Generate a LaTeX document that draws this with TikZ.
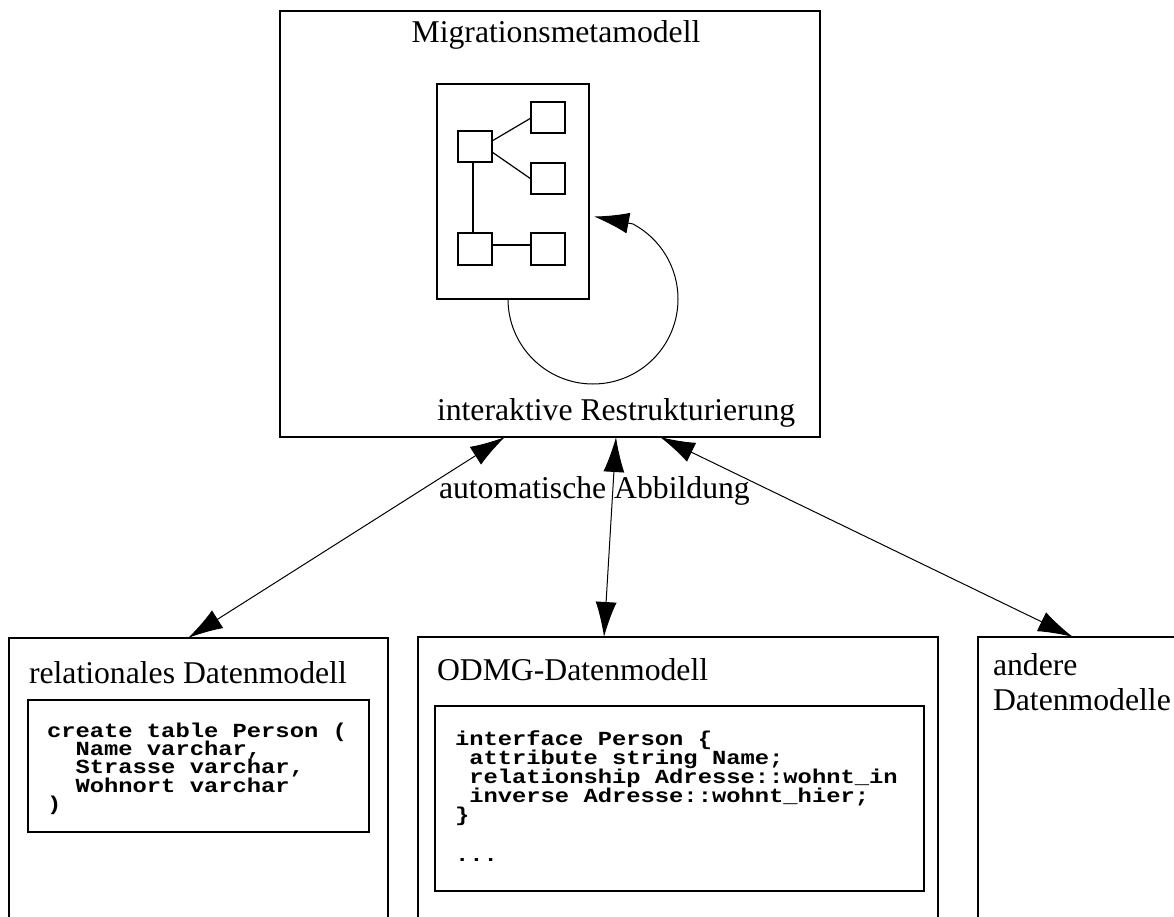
\documentclass[tikz,border=0pt]{standalone}
\usepackage{fontspec}
\setmainfont{Liberation Serif}
\setmonofont{Liberation Mono}[FakeStretch=1.19]
\usetikzlibrary{arrows.meta,calc}

\tikzset{
  box/.style={draw, line width=2pt, inner sep=0pt, outer sep=0pt, anchor=north west},
  smallbox/.style={draw, line width=2pt, inner sep=0pt, outer sep=0pt, minimum width=34pt, minimum height=31pt},
  txt/.style={inner sep=0pt, outer sep=0pt, font=\fontsize{31.7}{35}\selectfont},
  code/.style={inner sep=0pt, outer sep=0pt, anchor=base west},
  link/.style={line width=1pt, {Latex[length=35pt,width=21pt]}-{Latex[length=35pt,width=21pt]}},
  tip/.style={-{Latex[length=35pt,width=21pt]}}
}
\newcommand\codelines[2]{{\ttfamily\bfseries\fontsize{20}{#1}\selectfont\lineskiplimit=-100pt\vtop{#2}}}

\begin{document}
\begin{tikzpicture}[line cap=round,x=1pt,y=1pt]
\useasboundingbox (0,0) rectangle (1174,-917);
\clip (0,0) rectangle (1174,-917);
\node[box, minimum width=540pt, minimum height=426pt] (meta) at (280,-11) {};
\node[txt, anchor=base] (metalabel) at (556,-43) {Migrationsmetamodell};
\node[box, minimum width=152pt, minimum height=215pt] (struct) at (437,-84) {};
\node[smallbox] (sa) at (475,-147) {};
\node[smallbox] (sb) at (548,-118) {};
\node[smallbox] (sc) at (548,-179) {};
\node[smallbox] (sd) at (475,-249) {};
\node[smallbox] (se) at (548,-249) {};
\draw[line width=1.2pt] ([yshift=6pt]sa.east) -- (sb.west);
\draw[line width=1.2pt] ([yshift=-5pt]sa.east) -- (sc.west);
\draw[line width=1.2pt] ([xshift=-2pt]sa.south) -- ([xshift=-2pt]sd.north);
\draw[line width=1.2pt] ([yshift=4pt]sd.east) -- ([yshift=4pt]se.west);
\draw[line width=1pt, tip] ([xshift=71pt]struct.south west) arc[start angle=180, end angle=422, radius=85] -- ([xshift=5pt,yshift=-25pt]struct.east);
\node[txt, anchor=base west] (restr) at (437,-420) {interaktive Restrukturierung};
\node[box, minimum width=379pt, minimum height=400pt] (rel) at (9,-638) {};
\node[txt, anchor=base west] (rellabel) at (29,-683) {relationales Datenmodell};
\node[box, minimum width=341pt, minimum height=132pt] (relcode) at (28,-700) {};
\node[code] (reltext) at (47,-737) {\codelines{18.4pt}{%
  \hbox{create table Person (}
  \hbox{\ \ Name varchar,}
  \hbox{\ \ Strasse varchar,}
  \hbox{\ \ Wohnort varchar}
  \hbox{)}}};
\node[box, minimum width=520pt, minimum height=400pt] (odmg) at (418,-637) {};
\node[txt, anchor=base west] (odmglabel) at (437,-680) {ODMG-Datenmodell};
\node[box, minimum width=489pt, minimum height=185pt] (odmgcode) at (435,-706) {};
\node[code] (odmgtext) at (455,-745) {\codelines{19.2pt}{%
  \hbox{interface Person \{}
  \hbox{\ attribute string Name;}
  \hbox{\ relationship Adresse::wohnt\_in}
  \hbox{\ inverse Adresse::wohnt\_hier;}
  \hbox{\}}
  \vskip 20pt
  \hbox{...}}};
\node[box, minimum width=300pt, minimum height=400pt] (other) at (978,-637) {};
\node[txt, anchor=base west] (otherlabel) at (993,-675) {\vtop{\baselineskip=35pt\hbox{andere}\hbox{Datenmodelle}}};
\node[txt, anchor=base west] (maplabel) at (439,-498) {automatische Abbildung};
\draw[link] ([xshift=225pt]meta.south west) -- ([xshift=179pt]rel.north west);
\draw[link] ([xshift=336pt]meta.south west) -- ([xshift=186pt]odmg.north west);
\draw[link] ([xshift=380pt]meta.south west) -- ([xshift=95pt]other.north west);
\end{tikzpicture}
\end{document}
